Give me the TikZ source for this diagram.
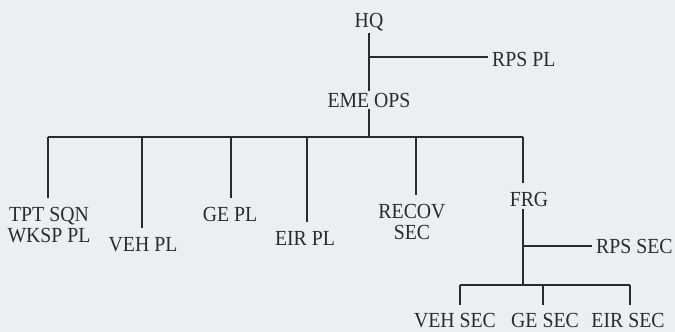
\documentclass[tikz,border=0pt]{standalone}
\usepackage{fontspec}
\setmainfont{Liberation Serif}[FakeStretch=0.92]
\usetikzlibrary{calc}
\definecolor{paper}{HTML}{ECEEEF}
\definecolor{ink}{HTML}{2B2B2B}

\begin{document}
\begin{tikzpicture}[x=1pt,y=-1pt,
    every node/.style={font=\fontsize{21.5}{21}\selectfont,text=ink},
    unit/.style={inner xsep=2pt,inner ysep=2pt,align=center},
    side/.style={unit,anchor=west,inner xsep=4pt},
    link/.style={draw=ink,line width=1.2pt},
  ]
  \fill[paper] (0,0) rectangle (675,332);
  \useasboundingbox (0,0) rectangle (675,332);

  % top of the tree
  \node[unit] (hq) at (369,22) {HQ};
  \node[unit] (eme) at (369,100) {EME OPS};
  \node[side] (rpspl) at (488,59) {RPS PL};
  \coordinate (hqj) at (369,57);

  \draw[link] (hq) -- (eme);
  \draw[link] (hqj) -- (hqj -| rpspl.west);

  % main bar
  \coordinate (emej) at (369,137);
  \coordinate (b1) at (48,137);
  \coordinate (b2) at (142,137);
  \coordinate (b3) at (231,137);
  \coordinate (b4) at (307,137);
  \coordinate (b5) at (416,137);
  \coordinate (b6) at (523,137);

  \node[unit,anchor=north] (tpt) at (49,205) {TPT SQN\\WKSP PL};
  \node[unit,anchor=north] (veh) at (143,235) {VEH PL};
  \node[unit,anchor=north] (ge) at (230,205) {GE PL};
  \node[unit,anchor=north] (eir) at (305,229) {EIR PL};
  \node[unit,anchor=north] (recov) at (412,202) {RECOV\\SEC};
  \node[unit,anchor=north] (frg) at (529,190) {FRG};

  \draw[link] (eme) -- (emej);
  \draw[link] (b1) -- (b6);
  \draw[link] (b1) -- ([yshift=7pt]b1 |- tpt.north);
  \draw[link] (b2) -- ([yshift=7pt]b2 |- veh.north);
  \draw[link] (b3) -- ([yshift=7pt]b3 |- ge.north);
  \draw[link] (b4) -- ([yshift=7pt]b4 |- eir.north);
  \draw[link] (b5) -- ([yshift=7pt]b5 |- recov.north);
  \draw[link] (b6) -- ([yshift=7pt]b6 |- frg.north);

  % FRG branch
  \coordinate (frgj) at (523,246);
  \coordinate (fj) at (523,285);
  \coordinate (s1) at (460,285);
  \coordinate (s2) at (543,285);
  \coordinate (s3) at (630,285);
  \node[side] (rpssec) at (592,246) {RPS SEC};

  \node[unit,anchor=north] (vehsec) at (455,311) {VEH SEC};
  \node[unit,anchor=north] (gesec) at (545,311) {GE SEC};
  \node[unit,anchor=north] (eirsec) at (628,311) {EIR SEC};

  \draw[link] (frg.south -| b6) -- (fj);
  \draw[link] (frgj) -- (frgj -| rpssec.west);
  \draw[link] (s1) -- (s3);
  \draw[link] (s1) -- ([yshift=6pt]s1 |- vehsec.north);
  \draw[link] (s2) -- ([yshift=6pt]s2 |- gesec.north);
  \draw[link] (s3) -- ([yshift=6pt]s3 |- eirsec.north);
\end{tikzpicture}
\end{document}
